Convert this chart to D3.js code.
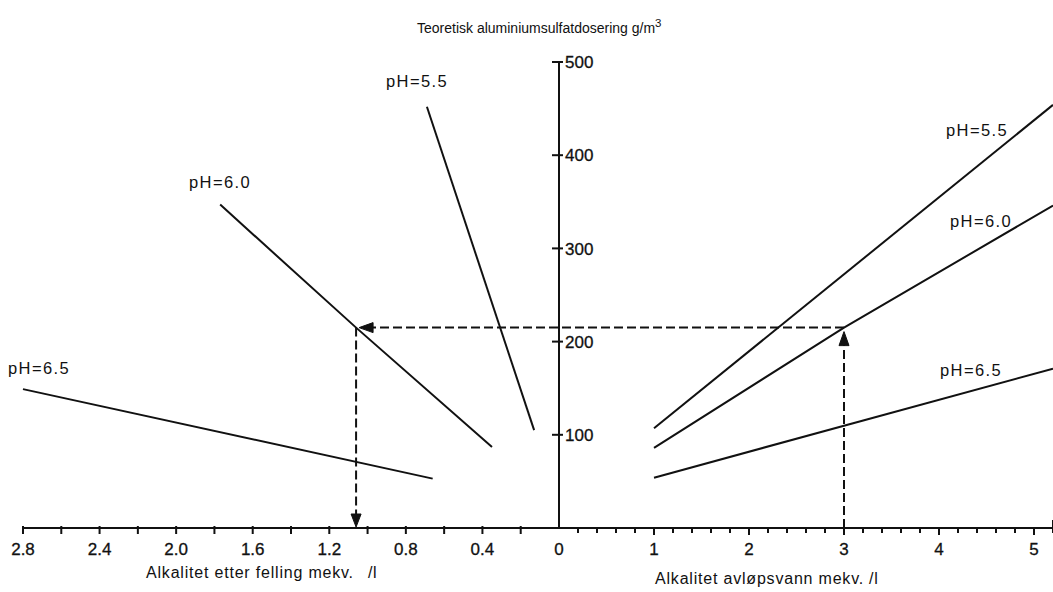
<!DOCTYPE html>
<html>
<head>
<meta charset="utf-8">
<script src="https://cdn.jsdelivr.net/npm/d3@7"></script>
<style>
  html, body { margin: 0; padding: 0; background: #fff; }
  svg { display: block; font-family: "Liberation Sans", Arial, Helvetica, sans-serif; }
</style>
</head>
<body>
<svg id="chart" width="1053" height="592"></svg>
<script>
// Theoretical aluminium sulphate dose (g/m3) vs. alkalinity, nomogram with two x scales.
const doseTicks = [100, 200, 300, 400, 500];
const influentTicks = [0, 1, 2, 3, 4, 5];                  // right scale labels
const effluentTicks = [2.8, 2.4, 2.0, 1.6, 1.2, 0.8, 0.4]; // left scale labels

// Right side: alkalinity of raw wastewater -> dose
const influentLabels = ["pH=5.5", "pH=6.0", "pH=6.5"];
const influentPH55 = [[1, 107], [5.2, 454]];
const influentPH60 = [[1, 86], [3, 215], [5.2, 346]];
const influentPH65 = [[1, 54], [5.2, 171]];

// Left side: dose -> alkalinity after precipitation
const effluentLabels = ["pH=5.5", "pH=6.0", "pH=6.5"];
const effluentPH55 = [[0.69, 452], [0.13, 105]];
const effluentPH60 = [[1.77, 347], [1.06, 215], [0.35, 87]];
const effluentPH65 = [[2.8, 149], [0.66, 53]];

// Worked example: 3 mekv/l at pH 6.0 -> 215 g/m3 -> 1.06 mekv/l
const exampleInfluent = 3;
const exampleDose = 215;
const exampleEffluent = 1.06;

const svg = d3.select("#chart");
const x0 = 559; // shared origin of both horizontal scales

const y = d3.scaleLinear().domain([0, 500]).range([528, 62]);
const xR = d3.scaleLinear().domain([0, 5]).range([x0, 1034]);
const xL = d3.scaleLinear().domain([0, 2.8]).range([x0, 23]);

const ink = "#111";

// ---- axes ----
const axes = svg.append("g").attr("stroke", ink).attr("fill", "none");
axes.append("line")
  .attr("x1", xL(2.8)).attr("x2", xR(5.2))
  .attr("y1", y(0)).attr("y2", y(0)).attr("stroke-width", 2);
axes.append("line")
  .attr("x1", x0).attr("x2", x0)
  .attr("y1", y(0)).attr("y2", y(500)).attr("stroke-width", 2);

// dose ticks crossing the axis
axes.selectAll(".ytick").data(doseTicks).join("line")
  .attr("x1", x0 - 7).attr("x2", x0 + 4)
  .attr("y1", d => y(d)).attr("y2", d => y(d))
  .attr("stroke-width", 2);

// right scale ticks every 0.2
const rMinor = d3.range(1, 27).map(i => i * 0.2);
axes.selectAll(".rtick").data(rMinor).join("line")
  .attr("x1", d => xR(d)).attr("x2", d => xR(d))
  .attr("y1", (d, i) => i === rMinor.length - 1 ? y(0) - 8 : y(0) - 1)
  .attr("y2", (d, i) => y(0) + ((i + 1) % 5 === 0 ? 7 : 5))
  .attr("stroke-width", 2);

// left scale ticks every 0.2
const lMinor = d3.range(1, 15).map(i => i * 0.2);
axes.selectAll(".ltick").data(lMinor).join("line")
  .attr("x1", d => xL(d)).attr("x2", d => xL(d))
  .attr("y1", y(0) - 2).attr("y2", y(0) + 6)
  .attr("stroke-width", 2);

// ---- tick labels ----
const labels = svg.append("g").attr("fill", ink).attr("stroke", ink)
  .attr("stroke-width", 0.3).attr("font-size", 17);
labels.selectAll(".yl").data(doseTicks).join("text")
  .attr("x", x0 + 6).attr("y", d => y(d))
  .attr("dy", "0.36em")
  .text(d => d);

labels.selectAll(".rl").data(influentTicks).join("text")
  .attr("x", d => xR(d)).attr("y", 555)
  .attr("text-anchor", "middle")
  .text(d => d);

labels.selectAll(".ll").data(effluentTicks).join("text")
  .attr("x", d => xL(d)).attr("y", 555)
  .attr("text-anchor", "middle")
  .text(d => d.toFixed(1));

// ---- axis titles ----
const title = svg.append("text")
  .attr("x", 417).attr("y", 33)
  .attr("font-size", 14).attr("fill", ink)
  .text("Teoretisk aluminiumsulfatdosering g/m");
title.append("tspan").attr("dy", -6).attr("font-size", 11.5).text("3");

const leftTitle = svg.append("text")
  .attr("x", 146).attr("y", 578)
  .attr("font-size", 16).attr("fill", ink).attr("letter-spacing", 0.8)
  .text("Alkalitet etter felling mekv.");
leftTitle.append("tspan").attr("dx", 14).text("/l");

const rightTitle = svg.append("text")
  .attr("x", 655).attr("y", 584)
  .attr("font-size", 16).attr("fill", ink).attr("letter-spacing", 0.8)
  .text("Alkalitet avløpsvann mekv.");
rightTitle.append("tspan").attr("dx", 5).text("/l");

// ---- pH lines ----
const lineR = d3.line().x(d => xR(d[0])).y(d => y(d[1]));
const lineL = d3.line().x(d => xL(d[0])).y(d => y(d[1]));

const curves = svg.append("g").attr("fill", "none").attr("stroke", ink).attr("stroke-width", 2);
[influentPH55, influentPH60, influentPH65].forEach(s => curves.append("path").attr("d", lineR(s)));
[effluentPH55, effluentPH60, effluentPH65].forEach(s => curves.append("path").attr("d", lineL(s)));

// ---- pH labels ----
const phText = svg.append("g").attr("fill", ink).attr("font-size", 16.5).attr("letter-spacing", 1.4);
const phPosR = [[946, 136], [950, 227], [940, 376]];
const phPosL = [[386, 87], [189, 188], [8, 374]];
influentLabels.forEach((t, i) => phText.append("text").attr("x", phPosR[i][0]).attr("y", phPosR[i][1]).text(t));
effluentLabels.forEach((t, i) => phText.append("text").attr("x", phPosL[i][0]).attr("y", phPosL[i][1]).text(t));

// ---- worked example (dashed path with arrows) ----
const ex = svg.append("g").attr("stroke", ink).attr("stroke-width", 2)
  .attr("fill", "none").attr("stroke-dasharray", "9,4");
const xe = xL(exampleEffluent), xi = xR(exampleInfluent), yd = y(exampleDose);
ex.append("line").attr("x1", xi).attr("x2", xi).attr("y1", y(0)).attr("y2", yd + 14);
ex.append("line").attr("x1", xi).attr("x2", xe + 14).attr("y1", yd).attr("y2", yd);
ex.append("line").attr("x1", xe).attr("x2", xe).attr("y1", yd).attr("y2", y(0) - 12);

const arrows = svg.append("g").attr("fill", ink).attr("stroke", ink).attr("stroke-width", 1);
arrows.append("path").attr("d", `M${xi},${yd + 4} L${xi - 5},${yd + 18} L${xi + 5},${yd + 18} Z`);
arrows.append("path").attr("d", `M${xe + 3},${yd} L${xe + 17},${yd - 5} L${xe + 17},${yd + 5} Z`);
arrows.append("path").attr("d", `M${xe},${y(0) - 1} L${xe - 5},${y(0) - 14} L${xe + 5},${y(0) - 14} Z`);
</script>
</body>
</html>
